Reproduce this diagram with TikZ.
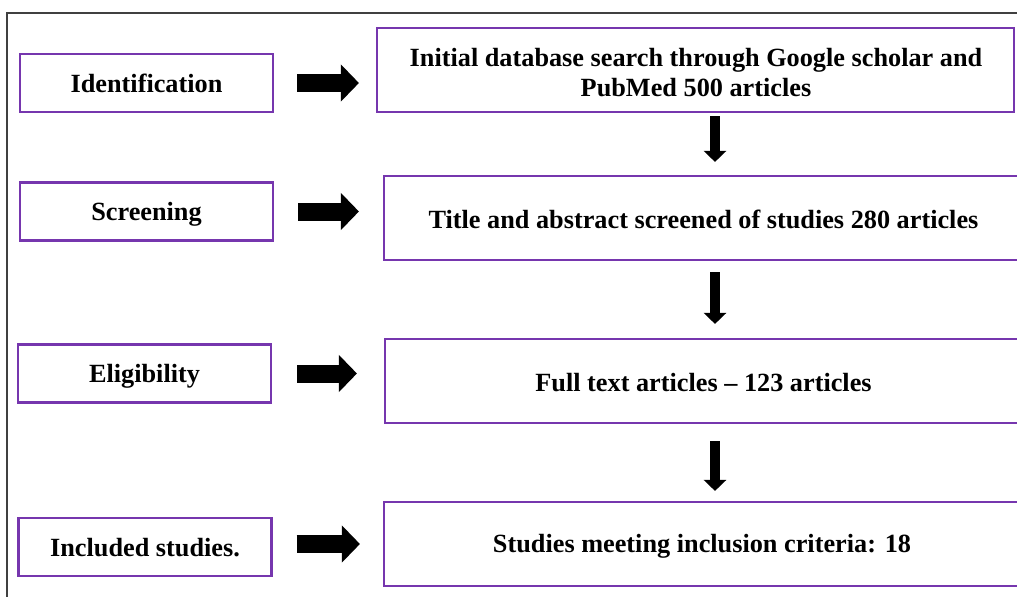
\documentclass[tikz,border=0pt]{standalone}
\usepackage{fontspec}
\setmainfont{Liberation Serif}
\usetikzlibrary{arrows.meta,calc}
\definecolor{boxpurple}{HTML}{7636AE}
\tikzset{
  lbox/.style={draw=boxpurple, line width=1.6pt, minimum width=189.75pt, minimum height=43.5pt, inner sep=0pt, text height=13.5pt, text depth=0pt, align=center, font=\fontsize{19.7}{22.5}\selectfont\bfseries},
  rbox/.style={draw=boxpurple, line width=1.6pt, minimum height=63pt, inner sep=0pt},
  rtext/.style={align=center, font=\fontsize{19.7}{22.5}\selectfont\bfseries},
  harrow/.style={line width=13.5pt, -{Triangle[width=27pt,length=13.5pt]}},
  varrow/.style={line width=7.5pt, -{Triangle[width=16.5pt,length=8.25pt]}},
}
\begin{document}
\begin{tikzpicture}[x=0.75pt, y=-0.75pt]
\useasboundingbox (0,0) rectangle (1017,596);
\draw[black!75, line width=0.9pt] (7,13) rectangle (1040,620);
% left boxes
\node[lbox] (L1) at (146.5,83) {Identification};
\node[lbox] (L2) at (146.5,211.5) {Screening};
\node[lbox] (L3) at (144.5,373.5) {Eligibility};
\node[lbox] (L4) at (145,547) {Included studies.};
% right boxes
\node[rbox, minimum width=477.75pt] (R1) at (695.5,70) {};
\node[rbox, minimum width=492pt] (R2) at (712,218) {};
\node[rbox, minimum width=492pt] (R3) at (713,381) {};
\node[rbox, minimum width=492pt] (R4) at (712,544) {};
\node[rtext] (T1) at (696,72.5) {Initial database search through Google scholar and\\PubMed 500 articles};
\node[rtext] (T2) at (703.5,219.5) {Title and abstract screened of studies 280 articles};
\node[rtext] (T3) at (703.5,382.5) {Full text articles -- 123 articles};
\node[rtext] (T4) at (702,546) {Studies meeting inclusion criteria: 18};
% horizontal arrows
\draw[harrow, shorten <=17.25pt, shorten >=12.75pt] (L1.east) -- (L1.east -| R1.west);
\draw[harrow, shorten <=18pt, shorten >=18pt] (L2.east) -- (L2.east -| R2.west);
\draw[harrow, shorten <=18.75pt, shorten >=20.25pt] (L3.east) -- (L3.east -| R3.west);
\draw[harrow, shorten <=18pt, shorten >=17.25pt] ([yshift=2.25pt]L4.east) -- ([yshift=2.25pt]L4.east -| R4.west);
% vertical arrows
\coordinate (vx) at (715,0);
\draw[varrow, shorten <=2.25pt, shorten >=9.75pt] (R1.south -| vx) -- (R2.north -| vx);
\draw[varrow, shorten <=8.25pt, shorten >=10.5pt] (R2.south -| vx) -- (R3.north -| vx);
\draw[varrow, shorten <=12.75pt, shorten >=7.5pt] (R3.south -| vx) -- (R4.north -| vx);
\end{tikzpicture}
\end{document}
